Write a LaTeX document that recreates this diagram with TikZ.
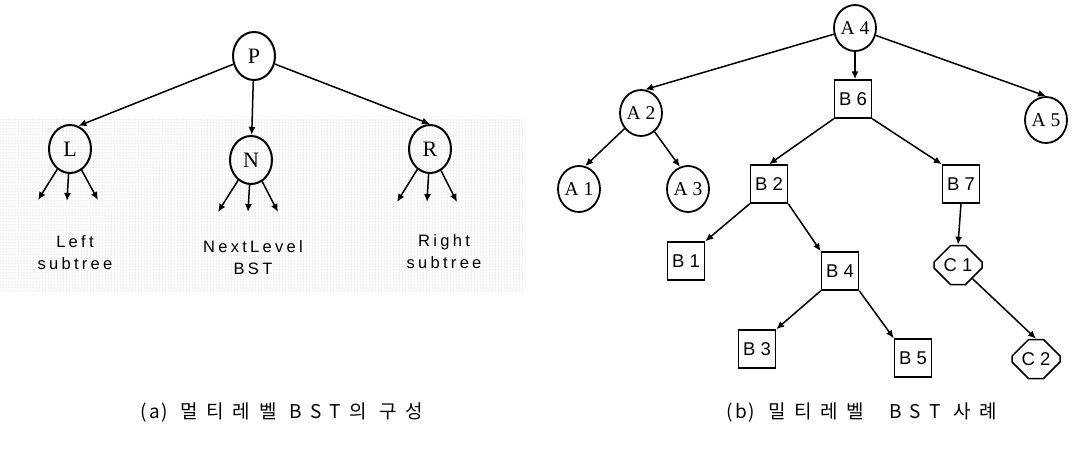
\documentclass[tikz,border=0pt]{standalone}
\usepackage{fontspec}
\setmainfont{Liberation Serif}
\newfontfamily\arial{Liberation Sans}
\newfontfamily\arialsp[LetterSpace=20]{Liberation Sans}
\newfontfamily\kor[LetterSpace=45]{Noto Sans CJK KR}
\newfontfamily\korn[LetterSpace=10]{Noto Sans CJK KR}
\usetikzlibrary{arrows.meta,shapes.geometric,shapes.misc,patterns}

\tikzset{
  nodo/.style={ellipse, draw, line width=2pt, minimum width=42pt, minimum height=48pt, inner sep=0pt, font=\fontsize{22}{26}\selectfont},
  hoja/.style={ellipse, draw, line width=1.8pt, minimum width=42pt, minimum height=46pt, inner sep=0pt, font=\fontsize{19.5}{23}\selectfont},
  caja/.style={rectangle, draw, line width=1.5pt, minimum width=37pt, minimum height=38pt, inner sep=0pt, font=\arial\fontsize{18.5}{21}\selectfont},
  octo/.style={chamfered rectangle, chamfered rectangle xsep=11pt, chamfered rectangle ysep=10pt, draw, line width=1.5pt, minimum width=48pt, minimum height=39pt, inner sep=0pt, font=\arial\fontsize{18.5}{21}\selectfont},
  texto/.style={align=center, font=\arialsp\fontsize{16.5}{22}\selectfont},
  rotulo/.style={font=\kor\fontsize{19}{21}\selectfont},
}

\begin{document}
\begin{tikzpicture}[x=1pt, y=-1pt, >={Latex[length=8pt,width=7pt]}, line width=1.5pt]
\useasboundingbox (0,0) rectangle (1081,450);
% Fondo punteado de la parte (a)
\fill[pattern=dots, pattern color=gray!65] (0,118) rectangle (525,292);
% (a) Estructura del BST multinivel
\node[nodo] (P) at (254,56) {P};
\node[nodo] (L) at (70,149) {L};
\node[nodo] (N) at (251,160) {N};
\node[nodo] (R) at (430,149) {R};
\draw[->] (P) -- (L.70);
\draw[->] (P) -- (N);
\draw[->] (P) -- (R.north);
% Subárboles de cada hijo
\coordinate (L1) at (38,200); \coordinate (L2) at (67,201); \coordinate (L3) at (98,200);
\coordinate (N1) at (218,212); \coordinate (N2) at (248,212); \coordinate (N3) at (278,212);
\coordinate (R1) at (397,202); \coordinate (R2) at (427,202); \coordinate (R3) at (457,202);
\foreach \h in {L,N,R}
  \foreach \i in {1,2,3}
    \draw[->] (\h) -- (\h\i);
\node[texto] (Ltxt) at (75,253) {Left\\subtree};
\node[texto] (Ntxt) at (253,258) {NextLevel\\BST};
\node[texto] (Rtxt) at (444,252) {Right\\subtree};
% (b) Ejemplo de BST multinivel
\node[hoja] (A4) at (855,28) {A 4};
\node[hoja] (A2) at (641,113) {A 2};
\node[hoja] (A1) at (579,189) {A 1};
\node[hoja] (A3) at (688,189) {A 3};
\node[hoja] (A5) at (1046,120) {A 5};
\node[caja] (B6) at (853,99) {B 6};
\node[caja] (B2) at (769,184) {B 2};
\node[caja] (B7) at (961,184) {B 7};
\node[caja] (B1) at (686,261) {B 1};
\node[caja] (B4) at (840,271) {B 4};
\node[caja] (B3) at (757,349) {B 3};
\node[caja] (B5) at (913,358) {B 5};
\node[octo] (C1) at (958,265) {C 1};
\node[octo] (C2) at (1036,359) {C 2};
\draw[->] (A4) -- (A2.80);
\draw[->] (A4.south) -- (A4.south |- B6.north);
\draw[->] (A4) -- (A5.north);
\draw[->] (A2) -- (A1.75);
\draw[->] (A2) -- (A3.110);
\draw[->] (B6.south west) -- (B2.north);
\draw[->] (B6.south east) -- (B7.north west);
\draw[->] (B2.south west) -- (B1.north east);
\draw[->] (B2.south east) -- (B4.north west);
\draw[->] (B4.south west) -- (B3.north east);
\draw[->] (B4.south east) -- (B5.north west);
\draw[->] (B7.south) -- (C1.north);
\draw[->] (C1) -- (C2.north);
% Rótulos
\node[rotulo] (capa) at (282,412) {{\korn(a)}\ 멀티레벨 BST의 구성};
\node[rotulo] (capb) at (862,412) {{\korn(b)}\ 밀티레벨\ \ BST 사례};
\end{tikzpicture}
\end{document}
